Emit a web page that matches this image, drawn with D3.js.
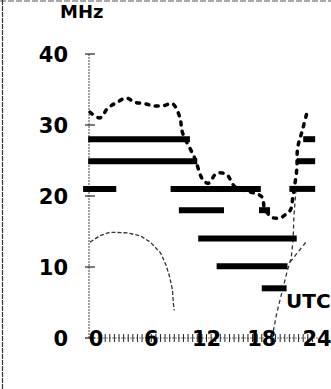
<!DOCTYPE html>
<html><head><meta charset="utf-8">
<script src="https://cdn.jsdelivr.net/npm/d3@7"></script>
<style>html,body{margin:0;padding:0;background:#fff;}svg{display:block;}</style>
</head><body>
<svg id="c" width="331" height="389"></svg>
<script>
// ---- data ----
const bands = [28, 24.9, 21, 18, 14, 10.1, 7];
const openings = [
  [[-0.85, 10.2], [22.5, 23.8]],
  [[-0.85, 11.0], [21.8, 23.8]],
  [[-1.4, 2.2], [8.1, 17.9], [21.0, 23.8]],
  [[9.0, 13.9], [17.7, 18.9]],
  [[11.1, 21.8]],
  [[13.1, 20.8]],
  [[18.0, 20.7]]
];
const mufHours = [-0.65, 0.43, 1.3, 2.3, 3.3, 4.2, 5.3, 6.2, 7.3, 8.3, 9.1, 9.4, 10.7, 11.6, 12.2, 13.1, 14.2, 15.1, 18.0, 18.3, 19.1, 20.0, 20.5, 21.1, 21.4, 21.8, 21.9, 22.4, 22.9];
const mufMHz   = [31.8, 31.0, 32.4, 33.2, 33.8, 33.2, 33.0, 32.7, 32.7, 33.0, 31.1, 28.9, 25.4, 22.3, 21.8, 23.2, 23.0, 21.3, 19.9, 18.3, 17.0, 16.9, 17.3, 18.0, 20.1, 23.7, 26.8, 29.2, 31.7];
const arcHours = [-0.65, 0.4, 1.5, 3.4, 4.8, 5.9, 7.0, 7.6, 8.0, 8.3, 8.4, 8.5];
const arcMHz   = [13.5, 14.4, 14.9, 14.8, 14.4, 13.5, 12.0, 10.3, 8.6, 6.8, 4.9, 3.9];
const lufHours = [19.1, 19.66, 20.3, 20.74, 21.2, 21.4, 21.5, 21.7];
const lufMHz   = [0, 3.66, 7.0, 9.3, 11.3, 13.8, 17.3, 20.6];
const lufBranchHours = [21.07, 22.8];
const lufBranchMHz   = [10.7, 13.5];
const yTicks = [0, 10, 20, 30, 40];
const xTickLabels = [0, 6, 12, 18, 24];
const yUnit = "MHz";
const xUnit = "UTC";

// ---- chart ----
const svg = d3.select("#c");
const x = d3.scaleLinear().domain([0, 24]).range([96, 317]);
const y = d3.scaleLinear().domain([0, 40]).range([338, 54]);
const axisHour = -0.76;
const font = "'DejaVu Sans', 'Liberation Sans', Arial, sans-serif";

// scan frame
svg.append("line").attr("x1", 0).attr("x2", 331).attr("y1", 1).attr("y2", 1)
  .attr("stroke", "#555").attr("stroke-width", 1.2).attr("stroke-dasharray", "6,2");
svg.append("line").attr("x1", 2.5).attr("x2", 2.5).attr("y1", 0).attr("y2", 389)
  .attr("stroke", "#333").attr("stroke-width", 1.2).attr("stroke-dasharray", "5,1");

// y axis line + ticks
svg.append("line").attr("x1", x(axisHour)).attr("x2", x(axisHour))
  .attr("y1", y(40)).attr("y2", y(0))
  .attr("stroke", "#444").attr("stroke-width", 1).attr("stroke-dasharray", "2,1");
svg.selectAll(".yt").data(yTicks).enter().append("line")
  .attr("x1", x(axisHour) - 4).attr("x2", x(axisHour) + 6)
  .attr("y1", d => y(d)).attr("y2", d => y(d))
  .attr("stroke", "#222").attr("stroke-width", 1.2);
svg.selectAll(".yl").data(yTicks).enter().append("text")
  .attr("x", 68).attr("y", d => y(d)).attr("dy", "0.36em")
  .attr("text-anchor", "end").attr("font-family", font).attr("font-weight", "bold")
  .attr("font-size", 21).attr("fill", "#000").text(d => d);

// x axis line + ticks
svg.append("line").attr("x1", x(axisHour) - 4).attr("x2", x(24) + 2)
  .attr("y1", y(0)).attr("y2", y(0))
  .attr("stroke", "#555").attr("stroke-width", 0.8).attr("stroke-dasharray", "2,1");
const halfHours = d3.range(0.5, 24, 0.5);
svg.selectAll(".xt").data(halfHours).enter().append("line")
  .attr("x1", d => x(d)).attr("x2", d => x(d))
  .attr("y1", y(0) - 4).attr("y2", y(0) + 4)
  .attr("stroke", "#222").attr("stroke-width", 1);
svg.selectAll(".xl").data(xTickLabels).enter().append("text")
  .attr("x", d => x(d)).attr("y", y(0)).attr("dy", "0.38em")
  .attr("text-anchor", "middle").attr("font-family", font).attr("font-weight", "bold")
  .attr("font-size", 21).attr("fill", "#000").text(d => d);

// thin curves
const line = d3.line().x(d => x(d[0])).y(d => y(d[1]));
svg.append("path").attr("d", line(d3.zip(arcHours, arcMHz)))
  .attr("fill", "none").attr("stroke", "#333").attr("stroke-width", 1.3)
  .attr("stroke-dasharray", "4,2");
svg.append("path").attr("d", line(d3.zip(lufHours, lufMHz)))
  .attr("fill", "none").attr("stroke", "#333").attr("stroke-width", 1.3)
  .attr("stroke-dasharray", "4,3");
svg.append("path").attr("d", line(d3.zip(lufBranchHours, lufBranchMHz)))
  .attr("fill", "none").attr("stroke", "#333").attr("stroke-width", 1.3)
  .attr("stroke-dasharray", "4,3");

// MUF thick dotted curve
svg.append("path").attr("d", d3.line().x(d => x(d[0])).y(d => y(d[1])).curve(d3.curveCatmullRom)(d3.zip(mufHours, mufMHz)))
  .attr("fill", "none").attr("stroke", "#000").attr("stroke-width", 3.5)
  .attr("stroke-linecap", "round").attr("stroke-dasharray", "3,6.5");

// band opening bars
const segs = [];
bands.forEach((b, i) => openings[i].forEach(s => segs.push({band: b, from: s[0], to: s[1]})));
svg.selectAll(".bar").data(segs).enter().append("line")
  .attr("x1", d => x(d.from)).attr("x2", d => x(d.to))
  .attr("y1", d => y(d.band)).attr("y2", d => y(d.band))
  .attr("stroke", "#000").attr("stroke-width", 6);

// unit labels
svg.append("text").attr("x", 60).attr("y", 18).attr("font-family", font)
  .attr("font-weight", "bold").attr("font-size", 18).attr("fill", "#000").text(yUnit);
svg.append("text").attr("x", 286).attr("y", 308).attr("font-family", font)
  .attr("font-weight", "bold").attr("font-size", 20).attr("fill", "#000").text(xUnit);
</script>
</body></html>
